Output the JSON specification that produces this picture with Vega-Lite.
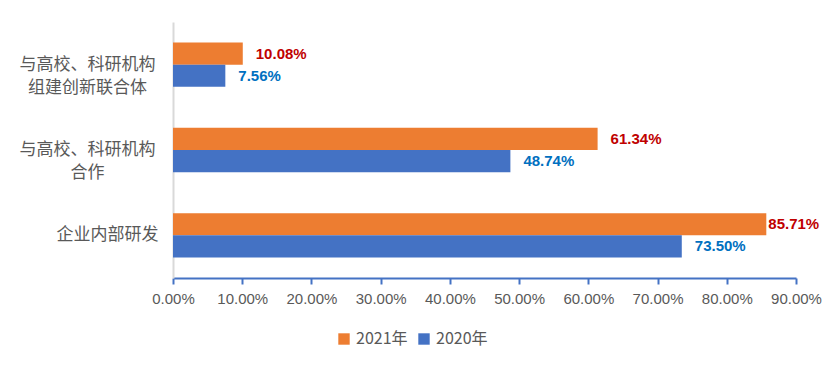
{
  "$schema": "https://vega.github.io/schema/vega-lite/v6.json",
  "width": 623,
  "height": 256,
  "autosize": {"type": "none"},
  "padding": {"left": 173, "top": 22, "right": 37, "bottom": 93},
  "background": "white",
  "config": {
    "view": {"stroke": null},
    "font": "Noto Sans CJK SC"
  },
  "data": {
    "values": [
      {"category": "与高校、科研机构组建创新联合体", "year": "2021年", "value": 0.1008},
      {"category": "与高校、科研机构组建创新联合体", "year": "2020年", "value": 0.0756},
      {"category": "与高校、科研机构合作", "year": "2021年", "value": 0.6134},
      {"category": "与高校、科研机构合作", "year": "2020年", "value": 0.4874},
      {"category": "企业内部研发", "year": "2021年", "value": 0.8571},
      {"category": "企业内部研发", "year": "2020年", "value": 0.7350}
    ]
  },
  "encoding": {
    "y": {
      "field": "category",
      "type": "nominal",
      "sort": ["与高校、科研机构组建创新联合体", "与高校、科研机构合作", "企业内部研发"],
      "scale": {"paddingInner": 0.48, "paddingOuter": 0.24},
      "axis": {
        "title": null,
        "ticks": false,
        "domainColor": "#D9D9D9",
        "domainWidth": 2,
        "labelFont": "Noto Sans CJK SC",
        "labelFontSize": 17,
        "labelColor": "#595959",
        "labelAlign": {"condition": {"test": "datum.value == '企业内部研发'", "value": "right"}, "value": "center"},
        "labelPadding": {"condition": {"test": "datum.value == '企业内部研发'", "value": 15}, "value": 86},
        "labelLineHeight": 23,
        "labelLimit": 300,
        "labelExpr": "datum.value == '与高校、科研机构组建创新联合体' ? ['与高校、科研机构', '组建创新联合体'] : datum.value == '与高校、科研机构合作' ? ['与高校、科研机构', '合作'] : datum.value"
      }
    },
    "yOffset": {
      "field": "year",
      "type": "nominal",
      "sort": ["2021年", "2020年"]
    },
    "x": {
      "field": "value",
      "type": "quantitative",
      "scale": {"domain": [0, 0.9], "nice": false},
      "axis": {
        "title": null,
        "format": ".2%",
        "values": [0, 0.1, 0.2, 0.3, 0.4, 0.5, 0.6, 0.7, 0.8, 0.9],
        "labelOverlap": false,
        "labelFlush": false,
        "grid": false,
        "domainColor": "#4472C4",
        "domainWidth": 2,
        "tickColor": "#4472C4",
        "tickWidth": 2,
        "tickSize": 6,
        "labelFont": "Liberation Sans",
        "labelFontSize": 15,
        "labelColor": "#595959",
        "labelPadding": 7
      }
    }
  },
  "layer": [
    {
      "mark": {"type": "bar"},
      "encoding": {
        "color": {
          "field": "year",
          "type": "nominal",
          "sort": ["2021年", "2020年"],
          "scale": {"domain": ["2021年", "2020年"], "range": ["#ED7D31", "#4472C4"]},
          "legend": {
            "title": null,
            "orient": "none",
            "direction": "horizontal",
            "legendX": 163,
            "legendY": 309,
            "symbolType": "square",
            "symbolSize": 130,
            "symbolStrokeWidth": 0,
            "labelFont": "Noto Sans CJK SC",
            "labelFontSize": 16,
            "labelColor": "#595959",
            "columnPadding": 8,
            "labelOffset": 4
          }
        }
      }
    },
    {
      "transform": [{"filter": "datum.value < 0.8"}],
      "mark": {"type": "text", "align": "left", "dx": 13, "font": "Liberation Sans", "fontSize": 15, "fontWeight": "bold"},
      "encoding": {
        "text": {"field": "value", "type": "quantitative", "format": ".2%"},
        "color": {"condition": {"test": "datum.year == '2021年'", "value": "#C00000"}, "value": "#0070C0"}
      }
    },
    {
      "transform": [{"filter": "datum.value >= 0.8"}],
      "mark": {"type": "text", "align": "left", "dx": 2, "font": "Liberation Sans", "fontSize": 15, "fontWeight": "bold"},
      "encoding": {
        "text": {"field": "value", "type": "quantitative", "format": ".2%"},
        "color": {"condition": {"test": "datum.year == '2021年'", "value": "#C00000"}, "value": "#0070C0"}
      }
    }
  ]
}
